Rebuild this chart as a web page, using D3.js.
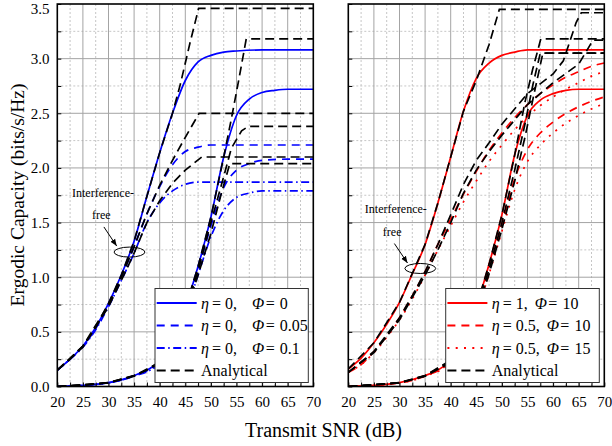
<!DOCTYPE html>
<html>
<head>
<meta charset="utf-8">
<script src="https://cdn.jsdelivr.net/npm/d3@7"></script>
<style>
  body { margin: 0; background: #fff; }
  svg { display: block; }
  text { font-family: "Liberation Serif", "Times New Roman", serif; }
</style>
</head>
<body>
<svg id="chart" width="612" height="446"></svg>
<script>
// axis ticks
const snrTicks = [20, 25, 30, 35, 40, 45, 50, 55, 60, 65, 70];
const capTicks = [0.0, 0.5, 1.0, 1.5, 2.0, 2.5, 3.0, 3.5];

// legend labels
const leftEta = ["0", "0", "0"];
const leftPhi = ["0", "0.05", "0.1"];
const rightEta = ["1", "0.5", "0.5"];
const rightPhi = ["10", "10", "15"];

// ---- left panel: eta = 0 ----
// first user (interference-free starts near 0.15)
const a0 = [[20,0.15],[22.5,0.25],[25,0.37],[27.5,0.54],[30,0.76],[32.5,1.02],[35,1.33],[37.5,1.74],[40,2.14],[42.5,2.5],[45,2.8],[47.5,2.97],[50,3.03],[52.5,3.06],[55,3.07],[60,3.08],[70,3.08]];
const a1 = [[20,0.15],[22.5,0.25],[25,0.37],[27.5,0.53],[30,0.75],[32.5,1.0],[35,1.28],[37.5,1.58],[40,1.83],[42.5,2.03],[45,2.15],[47.5,2.19],[50,2.21],[70,2.21]];
const a2 = [[20,0.15],[22.5,0.25],[25,0.36],[27.5,0.52],[30,0.73],[32.5,0.97],[35,1.22],[37.5,1.5],[40,1.68],[42.5,1.79],[45,1.85],[47.5,1.87],[70,1.87]];
const a0Ana = [[20,0.15],[22.5,0.25],[25,0.37],[27.5,0.54],[30,0.76],[32.5,1.02],[35,1.33],[37.5,1.74],[40,2.14],[42.5,2.5],[44,2.76],[46,3.16],[47.6,3.46],[70,3.46]];
const a1Ana = [[20,0.15],[25,0.37],[30,0.75],[32.5,1.0],[35,1.28],[37.5,1.58],[40,1.84],[42.5,2.07],[45,2.28],[47.7,2.5],[70,2.5]];
const a2Ana = [[20,0.15],[25,0.36],[30,0.73],[32.5,0.97],[35,1.22],[37.5,1.5],[40,1.7],[42.5,1.86],[45,1.98],[48.2,2.1],[70,2.1]];
// second user
const b0 = [[20,0.0],[25,0.01],[27.5,0.02],[30,0.035],[32.5,0.06],[35,0.1],[37.5,0.15],[40,0.23],[42.5,0.4],[45,0.72],[47.5,1.1],[50,1.55],[52.5,2.1],[55,2.48],[57.5,2.63],[60,2.69],[62.5,2.71],[65,2.72],[70,2.72]];
const b1 = [[20,0.0],[25,0.01],[30,0.034],[35,0.098],[40,0.22],[42.5,0.38],[45,0.69],[47.5,1.06],[50,1.47],[52.5,1.82],[55,1.98],[57.5,2.04],[60,2.07],[65,2.08],[70,2.08]];
const b2 = [[20,0.0],[25,0.01],[30,0.033],[35,0.095],[40,0.21],[42.5,0.36],[45,0.66],[47.5,1.02],[50,1.37],[52.5,1.61],[55,1.73],[57.5,1.77],[60,1.79],[70,1.79]];
const b0Ana = [[20,0.0],[25,0.01],[30,0.035],[35,0.1],[37.5,0.15],[40,0.23],[42.5,0.4],[45,0.72],[47.5,1.1],[50,1.55],[52.5,2.1],[54,2.45],[55.5,2.82],[56.9,3.18],[70,3.18]];
const b1Ana = [[20,0.0],[30,0.034],[35,0.098],[40,0.22],[42.5,0.38],[45,0.69],[47.5,1.06],[50,1.5],[52.5,1.92],[54,2.18],[56,2.34],[57.3,2.38],[70,2.38]];
const b2Ana = [[20,0.0],[30,0.033],[35,0.095],[40,0.21],[42.5,0.36],[45,0.66],[47.5,1.02],[50,1.4],[52,1.76],[53.7,2.04],[70,2.04]];

// ---- right panel: eta > 0 ----
const c0 = [[20,0.16],[22.5,0.26],[25,0.4],[27.5,0.57],[30,0.77],[32.5,1.03],[35,1.3],[37.5,1.68],[40,2.1],[42.5,2.52],[45,2.82],[47.5,2.96],[50,3.03],[52.5,3.06],[55,3.08],[70,3.08]];
const c1 = [[20,0.13],[22.5,0.2],[25,0.32],[27.5,0.46],[30,0.63],[32.5,0.83],[35,1.05],[37.5,1.3],[40,1.53],[42.5,1.76],[45,1.97],[47.5,2.16],[50,2.32],[52.5,2.46],[55,2.58],[57.5,2.68],[60,2.76],[62.5,2.83],[65,2.88],[67.5,2.93],[70,2.96]];
const c2 = [[20,0.13],[22.5,0.2],[25,0.31],[27.5,0.45],[30,0.61],[32.5,0.8],[35,1.02],[37.5,1.25],[40,1.47],[42.5,1.69],[45,1.88],[47.5,2.06],[50,2.21],[52.5,2.35],[55,2.47],[57.5,2.57],[60,2.65],[62.5,2.72],[65,2.78],[67.5,2.84],[70,2.88]];
const c0Ana = [[20,0.16],[25,0.4],[30,0.77],[35,1.3],[37.5,1.68],[40,2.1],[42.5,2.52],[45,2.8],[47.5,3.13],[49.5,3.45],[70,3.45]];
const c1Ana = [[20,0.13],[25,0.32],[30,0.63],[32.5,0.83],[35,1.05],[37.5,1.3],[40,1.57],[42.5,1.85],[45,2.07],[47.5,2.23],[50,2.4],[55,2.68],[60,2.86],[62,2.98],[64.5,3.33],[65.5,3.42],[70,3.42]];
const c2Ana = [[20,0.13],[25,0.31],[30,0.61],[35,1.02],[37.5,1.25],[40,1.5],[42.5,1.77],[45,1.98],[47.5,2.15],[50,2.3],[55,2.58],[60,2.78],[65,2.95],[67.8,3.17],[70,3.17]];
const d0 = [[20,0.0],[25,0.01],[30,0.035],[35,0.1],[37.5,0.15],[40,0.24],[42.5,0.41],[45,0.73],[47.5,1.12],[50,1.57],[52.5,2.12],[55,2.48],[57.5,2.62],[60,2.68],[62.5,2.71],[65,2.72],[70,2.72]];
const d1 = [[20,0.0],[30,0.034],[35,0.097],[40,0.23],[42.5,0.39],[45,0.7],[47.5,1.07],[50,1.48],[52.5,1.9],[55,2.17],[57.5,2.32],[60,2.42],[62.5,2.5],[65,2.56],[67.5,2.61],[70,2.65]];
const d2 = [[20,0.0],[30,0.033],[35,0.094],[40,0.22],[42.5,0.37],[45,0.67],[47.5,1.03],[50,1.42],[52.5,1.8],[55,2.06],[57.5,2.21],[60,2.32],[62.5,2.41],[65,2.48],[67.5,2.54],[70,2.59]];
const d0Ana = [[20,0.0],[30,0.035],[35,0.1],[40,0.24],[42.5,0.41],[45,0.73],[47.5,1.12],[50,1.57],[52.5,2.12],[54.5,2.6],[56,2.9],[57.6,3.18],[70,3.18]];
const d1Ana = [[20,0.0],[30,0.034],[35,0.097],[40,0.23],[42.5,0.39],[45,0.7],[47.5,1.07],[50,1.5],[52.5,1.98],[54.5,2.4],[56,2.75],[57.5,3.05],[70,3.05]];
const d2Ana = [[20,0.0],[30,0.033],[35,0.094],[40,0.22],[42.5,0.37],[45,0.67],[47.5,1.03],[50,1.44],[52.5,1.88],[54.5,2.28],[56.2,2.66],[58,3.05],[70,3.05]];

// line styles
const SOLID = null, DASH = "8,6", DASHDOT = "8,3.5,1.5,3.5", DOT = "2,6.3", ANA = "9,5";
const FONT = "'Liberation Serif', 'Times New Roman', serif";

const svg = d3.select("#chart");
const TOP = 4, BOTTOM = 386.5;

function drawPanel(cfg) {
  const x = d3.scaleLinear().domain([20, 70]).range([cfg.x0, cfg.x1]);
  const y = d3.scaleLinear().domain([0, 3.5]).range([BOTTOM, TOP]);
  const g = svg.append("g");

  // grid: dotted minor, solid major
  const minorX = d3.range(22.5, 70, 5), majorX = snrTicks.slice(1, -1);
  const minorY = d3.range(0.25, 3.5, 0.5), majorY = capTicks.slice(1, -1);
  g.selectAll(".gx-minor").data(minorX).enter().append("line")
    .attr("x1", d => x(d)).attr("x2", d => x(d)).attr("y1", TOP).attr("y2", BOTTOM)
    .attr("stroke", "#c6c6c6").attr("stroke-dasharray", "2,2");
  g.selectAll(".gy-minor").data(minorY).enter().append("line")
    .attr("y1", d => y(d)).attr("y2", d => y(d)).attr("x1", cfg.x0).attr("x2", cfg.x1)
    .attr("stroke", "#c6c6c6").attr("stroke-dasharray", "2,2");
  g.selectAll(".gx-major").data(majorX).enter().append("line")
    .attr("x1", d => x(d)).attr("x2", d => x(d)).attr("y1", TOP).attr("y2", BOTTOM)
    .attr("stroke", "#a4a4a4");
  g.selectAll(".gy-major").data(majorY).enter().append("line")
    .attr("y1", d => y(d)).attr("y2", d => y(d)).attr("x1", cfg.x0).attr("x2", cfg.x1)
    .attr("stroke", "#a4a4a4");

  // curves
  const clipId = "clip" + cfg.id;
  svg.append("clipPath").attr("id", clipId).append("rect")
    .attr("x", cfg.x0).attr("y", TOP).attr("width", cfg.x1 - cfg.x0).attr("height", BOTTOM - TOP);
  const smooth = d3.line().x(d => x(d[0])).y(d => y(d[1])).curve(d3.curveMonotoneX);
  const straight = d3.line().x(d => x(d[0])).y(d => y(d[1]));
  const cg = g.append("g").attr("clip-path", `url(#${clipId})`).attr("fill", "none");
  cfg.curves.forEach(c => {
    cg.append("path").attr("d", smooth(c.data))
      .attr("stroke", cfg.color).attr("stroke-width", 1.7)
      .attr("stroke-dasharray", c.dash);
  });
  cfg.analytical.forEach(a => {
    cg.append("path").attr("d", straight(a))
      .attr("stroke", "#000").attr("stroke-width", 1.7)
      .attr("stroke-dasharray", ANA);
  });

  // frame
  g.append("rect").attr("x", cfg.x0).attr("y", TOP)
    .attr("width", cfg.x1 - cfg.x0).attr("height", BOTTOM - TOP)
    .attr("fill", "none").attr("stroke", "#000").attr("stroke-width", 1.6);

  // axes with inward ticks
  const xAxis = d3.axisBottom(x).tickValues(d3.range(20, 70.01, 2.5)).tickSize(-4).tickPadding(9.5)
    .tickFormat(d => d % 5 === 0 ? d : "");
  const ax = g.append("g").attr("transform", `translate(0,${BOTTOM})`).call(xAxis);
  ax.select(".domain").remove();
  ax.attr("font-family", FONT).attr("font-size", 15);
  ax.selectAll("text").attr("fill", "#000").style("font-family", FONT);

  const yAxis = d3.axisLeft(y).tickValues(d3.range(0, 3.501, 0.25)).tickSize(-4).tickPadding(7.8)
    .tickFormat(d => (cfg.yLabels && Math.abs(d * 2 - Math.round(d * 2)) < 1e-9) ? d3.format(".1f")(d) : "");
  const ay = g.append("g").attr("transform", `translate(${cfg.x0},0)`).call(yAxis);
  ay.select(".domain").remove();
  ay.attr("font-family", FONT).attr("font-size", 15);
  ay.selectAll("text").attr("fill", "#000").style("font-family", FONT)
    .attr("dy", d => d > 3.4 ? "0.6em" : "0.32em");

  // legend
  const lg = g.append("g").attr("transform", `translate(${cfg.legendX},288.5)`);
  lg.append("rect").attr("width", cfg.legendW).attr("height", 94)
    .attr("fill", "#fff").attr("stroke", "#333").attr("stroke-width", 1);
  const rows = cfg.eta.map((e, i) => ({ eta: e, phi: cfg.phi[i], color: cfg.color, dash: cfg.curves[i].dash }));
  rows.push({ text: "Analytical", color: "#000", dash: ANA });
  rows.forEach((r, i) => {
    const ry = 14.5 + i * 22.5;
    lg.append("line").attr("x1", 1.7).attr("x2", 41.7).attr("y1", ry).attr("y2", ry)
      .attr("stroke", r.color).attr("stroke-width", 2).attr("stroke-dasharray", r.dash);
    const t = lg.append("text").attr("x", 46).attr("y", ry).attr("dy", "0.36em")
      .attr("font-size", 16).style("font-family", FONT);
    if (r.text) {
      t.text(r.text);
    } else {
      t.append("tspan").attr("font-style", "italic").text("\u03b7");
      t.append("tspan").attr("dx", 3).text("= " + r.eta + ",");
      t.append("tspan").attr("dx", cfg.phiGap).attr("font-style", "italic").text("\u03a6");
      t.append("tspan").attr("dx", 1.5).text("=");
      t.append("tspan").attr("dx", 5).text(r.phi);
    }
  });

  // annotation
  const n = cfg.note;
  g.append("text").attr("x", x(n.line1[0])).attr("y", y(n.line1[1])).attr("text-anchor", "middle")
    .attr("font-size", 12).style("font-family", FONT).text("Interference-");
  g.append("text").attr("x", x(n.line2[0])).attr("y", y(n.line2[1])).attr("text-anchor", "middle")
    .attr("font-size", 12).style("font-family", FONT).text("free");
  g.append("line").attr("x1", x(n.arrow[0][0])).attr("y1", y(n.arrow[0][1]))
    .attr("x2", x(n.arrow[1][0])).attr("y2", y(n.arrow[1][1]))
    .attr("stroke", "#000").attr("stroke-width", 1).attr("marker-end", "url(#arrowHead)");
  g.append("ellipse").attr("cx", x(n.ellipse[0])).attr("cy", y(n.ellipse[1]))
    .attr("rx", 15.4).attr("ry", 5).attr("fill", "none").attr("stroke", "#000").attr("stroke-width", 1);
}

svg.append("defs").append("marker").attr("id", "arrowHead")
  .attr("viewBox", "0 -5 10 10").attr("refX", 10).attr("markerWidth", 7).attr("markerHeight", 7)
  .attr("markerUnits", "userSpaceOnUse").attr("orient", "auto")
  .append("path").attr("d", "M0,-4L10,0L0,4Z").attr("fill", "#000");

drawPanel({
  id: "L", x0: 57.3, x1: 313.3, color: "#0000ff", yLabels: true, phiGap: 15,
  curves: [{ data: a0, dash: SOLID }, { data: a1, dash: DASH }, { data: a2, dash: DASHDOT },
           { data: b0, dash: SOLID }, { data: b1, dash: DASH }, { data: b2, dash: DASHDOT }],
  analytical: [a0Ana, a1Ana, a2Ana, b0Ana, b1Ana, b2Ana],
  eta: leftEta, phi: leftPhi, legendX: 155, legendW: 153.3,
  note: { line1: [28.93, 1.736], line2: [28.6, 1.53], arrow: [[29.1, 1.46], [31.6, 1.285]], ellipse: [34.1, 1.23] }
});
drawPanel({
  id: "R", x0: 348.3, x1: 604.3, color: "#ff0000", yLabels: false, phiGap: 7,
  curves: [{ data: c0, dash: SOLID }, { data: c1, dash: DASH }, { data: c2, dash: DOT },
           { data: d0, dash: SOLID }, { data: d1, dash: DASH }, { data: d2, dash: DOT }],
  analytical: [c0Ana, c1Ana, c2Ana, d0Ana, d1Ana, d2Ana],
  eta: rightEta, phi: rightPhi, legendX: 445.7, legendW: 153.6,
  note: { line1: [29.28, 1.59], line2: [28.57, 1.377], arrow: [[29.0, 1.308], [31.56, 1.13]], ellipse: [34.06, 1.08] }
});

// axis titles
svg.append("text").attr("x", 323.5).attr("y", 436.5).attr("text-anchor", "middle")
  .attr("font-size", 20).style("font-family", FONT).text("Transmit SNR (dB)");
svg.append("text").attr("transform", "translate(24,195) rotate(-90)").attr("text-anchor", "middle")
  .attr("font-size", 19.5).style("font-family", FONT).text("Ergodic Capacity (bits/s/Hz)");
</script>
</body>
</html>
